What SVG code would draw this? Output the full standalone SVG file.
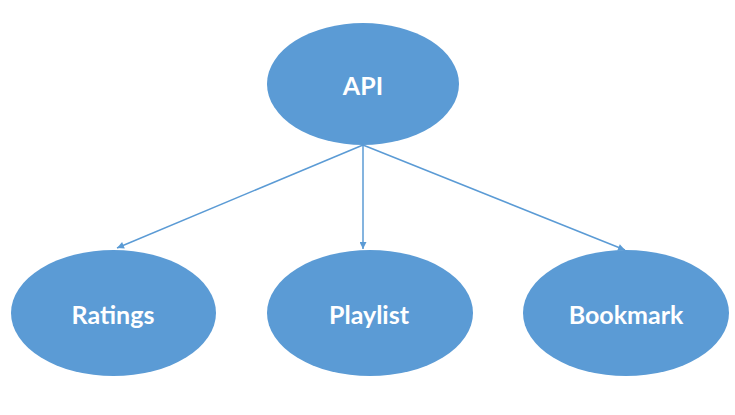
<svg xmlns="http://www.w3.org/2000/svg" width="735" height="415" viewBox="0 0 735 415">
<style>
.node{fill:#5B9BD5;}
.lbl{fill:#ffffff;font-family:Lato,"Open Sans","Liberation Sans",sans-serif;font-size:25px;font-weight:bold;text-anchor:middle;}
.edge{stroke:#5B9BD5;stroke-width:1.5;fill:none;marker-end:url(#arr);}
</style>
<defs>
<marker id="arr" viewBox="0 0 10 10" refX="10" refY="5" markerWidth="8" markerHeight="7" orient="auto" markerUnits="userSpaceOnUse">
<path d="M0,0 L10,5 L0,10 z" fill="#5B9BD5"/>
</marker>
</defs>
<rect width="735" height="415" fill="#ffffff"/>
<g id="connectors">
<line class="edge" x1="363" y1="145" x2="117" y2="248"/>
<line class="edge" x1="363" y1="145" x2="363" y2="249"/>
<line class="edge" x1="363" y1="145" x2="625" y2="250"/>
</g>
<g id="api">
<ellipse class="node" cx="363" cy="84" rx="96" ry="61"/>
<text class="lbl" x="363" y="95">API</text>
</g>
<g id="ratings">
<ellipse class="node" cx="113.5" cy="313" rx="102.5" ry="63"/>
<text class="lbl" x="113" y="324">Ratings</text>
</g>
<g id="playlist">
<ellipse class="node" cx="370" cy="313" rx="103" ry="63"/>
<text class="lbl" x="369" y="324">Playlist</text>
</g>
<g id="bookmark">
<ellipse class="node" cx="626" cy="313" rx="103" ry="63"/>
<text class="lbl" x="626" y="324">Bookmark</text>
</g>
</svg>
